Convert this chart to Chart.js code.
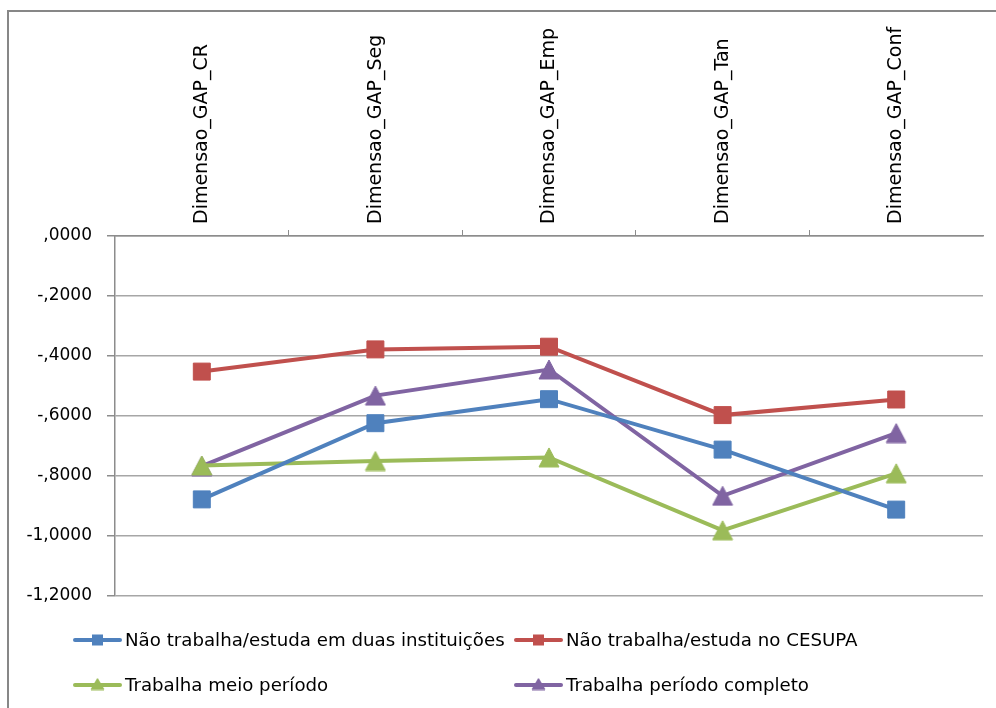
<!DOCTYPE html>
<html>
<head>
<meta charset="utf-8">
<script src="https://cdn.jsdelivr.net/npm/chart.js@4/dist/chart.umd.min.js"></script>
<style>
  html, body { margin: 0; padding: 0; background: #ffffff; }
  #wrap { position: relative; width: 996px; height: 708px; overflow: hidden; }
  #frame { position: absolute; left: 7px; top: 10px; width: 1100px; height: 800px;
           border-left: 2px solid #878787; border-top: 2px solid #878787; }
  #c { position: absolute; left: 0; top: 0; }
</style>
</head>
<body>
<div id="wrap">
  <div id="frame"></div>
  <canvas id="c" width="996" height="708"></canvas>
</div>
<script>
// Categories (GAP dimensions) shown along the top axis
const categories = ['Dimensao_GAP_CR', 'Dimensao_GAP_Seg', 'Dimensao_GAP_Emp', 'Dimensao_GAP_Tan', 'Dimensao_GAP_Conf'];

// Series names
const seriesNames = [
  'Não trabalha/estuda em duas instituições',
  'Não trabalha/estuda no CESUPA',
  'Trabalha meio período',
  'Trabalha período completo'
];

// Mean GAP per dimension for each group
const duasInstituicoes = [-0.878, -0.624, -0.544, -0.712, -0.912];
const noCesupa         = [-0.452, -0.378, -0.369, -0.597, -0.545];
const meioPeriodo      = [-0.765, -0.750, -0.738, -0.981, -0.791];
const periodoCompleto  = [-0.767, -0.532, -0.445, -0.866, -0.657];

// Value axis ticks
const yTicks = [0, -0.2, -0.4, -0.6, -0.8, -1.0, -1.2];

const BLUE = '#4F81BD', RED = '#C0504D', GREEN = '#9BBB59', PURPLE = '#8064A2';
const GRID = '#a6a6a6', AXIS = '#8c8c8c';

// Number format with comma decimal and no leading zero: ",0000", "-,2000", "-1,0000"
function fmt(v) {
  let s = Math.abs(v).toFixed(4).replace('.', ',');
  if (s.startsWith('0,')) s = s.slice(1);
  return (v < -1e-9 ? '-' : '') + s;
}

// Triangle marker whose bounding box is centred on the point
function triangleMarker(color, w, h) {
  const c = document.createElement('canvas');
  c.width = w + 2; c.height = h + 2;
  const g = c.getContext('2d');
  g.beginPath();
  g.moveTo((w + 2) / 2, 1);
  g.lineTo(w + 1, h + 1);
  g.lineTo(1, h + 1);
  g.closePath();
  g.fillStyle = color; g.fill();
  g.strokeStyle = color; g.lineWidth = 1; g.stroke();
  return c;
}

const triGreen = triangleMarker(GREEN, 20, 19);
const triPurple = triangleMarker(PURPLE, 20, 19);
const triGreenSmall = triangleMarker(GREEN, 13, 11);
const triPurpleSmall = triangleMarker(PURPLE, 13, 11);

function series(label, data, color, style) {
  return {
    label, data,
    borderColor: color, backgroundColor: color,
    borderWidth: 4, tension: 0,
    pointStyle: style, pointRadius: 12, pointHoverRadius: 12,
    pointBorderWidth: 1, pointBorderColor: color, pointBackgroundColor: color
  };
}

// Two-column legend with line-and-marker swatches
const gridLegend = {
  id: 'gridLegend',
  afterDraw(chart) {
    const ctx = chart.ctx;
    const cells = [
      { x: 75,  y: 640, small: null },
      { x: 516, y: 640, small: null },
      { x: 75,  y: 685, small: triGreenSmall },
      { x: 516, y: 685, small: triPurpleSmall }
    ];
    ctx.save();
    chart.data.datasets.forEach((ds, i) => {
      const c = cells[i];
      ctx.strokeStyle = ds.borderColor;
      ctx.lineWidth = 4;
      ctx.lineCap = 'round';
      ctx.beginPath();
      ctx.moveTo(c.x, c.y); ctx.lineTo(c.x + 45, c.y);
      ctx.stroke();
      const mx = c.x + 22.5;
      if (c.small) {
        ctx.drawImage(c.small, mx - c.small.width / 2, c.y - c.small.height / 2 - 1);
      } else {
        ctx.fillStyle = ds.borderColor;
        ctx.fillRect(mx - 5.5, c.y - 5.5, 11, 11);
      }
      ctx.fillStyle = '#000';
      ctx.font = '18.2px "DejaVu Sans"';
      ctx.textBaseline = 'middle';
      ctx.textAlign = 'left';
      ctx.fillText(ds.label, c.x + 50, c.y + 1);
    });
    ctx.restore();
  }
};

new Chart(document.getElementById('c'), {
  type: 'line',
  data: {
    labels: categories,
    datasets: [
      series(seriesNames[0], duasInstituicoes, BLUE, 'rect'),
      series(seriesNames[1], noCesupa, RED, 'rect'),
      series(seriesNames[2], meioPeriodo, GREEN, triGreen),
      series(seriesNames[3], periodoCompleto, PURPLE, triPurple)
    ]
  },
  options: {
    responsive: false,
    animation: false,
    devicePixelRatio: 1,
    layout: { padding: { left: 0, top: 0, right: 11, bottom: 112 } },
    plugins: { legend: { display: false }, tooltip: { enabled: false } },
    scales: {
      x: {
        position: 'top',
        offset: true,
        afterFit(scale) { scale.height = 236; },
        grid: {
          offset: true,
          drawOnChartArea: false,
          drawTicks: true,
          tickLength: 6,
          tickColor: (ctx) => (ctx.index === undefined || ctx.index === 0 || ctx.index >= categories.length) ? 'rgba(0,0,0,0)' : AXIS,
          color: AXIS
        },
        border: { display: true, color: AXIS, width: 1.5 },
        ticks: {
          autoSkip: false,
          minRotation: 90, maxRotation: 90,
          padding: 6,
          labelOffset: 23,
          color: '#000',
          font: { family: 'DejaVu Sans', size: 19 }
        }
      },
      y: {
        min: -1.2, max: 0,
        afterFit(scale) { scale.width = 115; },
        afterBuildTicks(scale) { scale.ticks = yTicks.map(v => ({ value: v })); },
        grid: {
          color: GRID, lineWidth: 1.5,
          tickLength: 8, tickColor: AXIS,
          drawTicks: true
        },
        border: { display: true, color: AXIS, width: 1.5 },
        ticks: {
          padding: 15,
          color: '#000',
          font: { family: 'DejaVu Sans', size: 17 },
          callback: (v) => fmt(v)
        }
      }
    }
  },
  plugins: [gridLegend]
});
</script>
</body>
</html>
